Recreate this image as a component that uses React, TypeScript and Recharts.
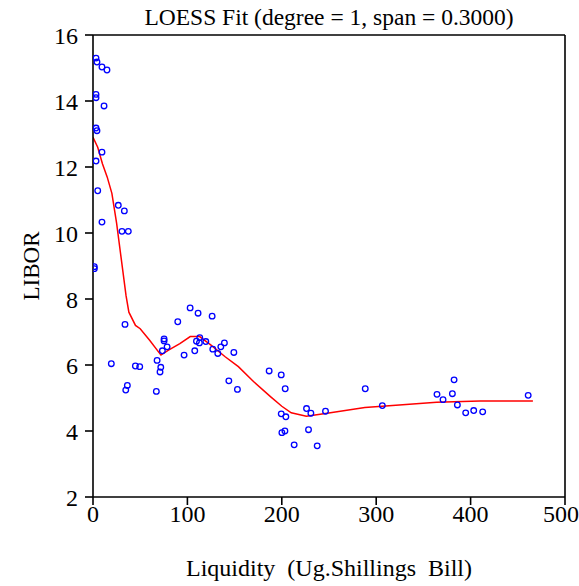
import {
  ComposedChart,
  Scatter,
  Line,
  XAxis,
  YAxis,
  ReferenceLine,
} from "recharts";

const liquidity = [
  3.2, 4.2, 9.5, 14.8, 3.2, 3.2, 11.7, 3.2, 4.2, 9.5, 3.2, 5, 26.8, 33.2, 9.5,
  30.7, 37.4, 1.4, 1.4, 33.9, 89.8, 75.3, 75.3, 78.5, 73.5, 19.4, 44.9, 49.5,
  67.9, 71.8, 71, 36.4, 34.7, 67.1, 102.9, 111.3, 126.2, 113.1, 109.6, 112.7,
  119.5, 139.2, 135.4, 126.9, 132.2, 107.8, 96.5, 149.2, 143.9, 153, 186.6,
  199.4, 203.6, 199.4, 204.3, 200.1, 203.3, 226.2, 230.8, 228.3, 246.3, 213.1,
  237.5, 288.4, 306.5, 364.4, 370.8, 382.5, 380.7, 386, 394.8, 403.3, 412.8,
  461,
];
const libor = [
  15.3, 15.18, 15.03, 14.94, 14.2, 14.1, 13.85, 13.18, 13.1, 12.45, 12.18,
  11.28, 10.84, 10.67, 10.33, 10.05, 10.05, 8.98, 8.92, 7.23, 7.31, 6.79, 6.73,
  6.55, 6.43, 6.04, 5.97, 5.95, 6.14, 5.93, 5.79, 5.38, 5.24, 5.2, 7.73, 7.57,
  7.48, 6.83, 6.72, 6.67, 6.71, 6.67, 6.55, 6.48, 6.35, 6.43, 6.3, 6.38, 5.52,
  5.26, 5.82, 5.7, 5.28, 4.52, 4.43, 3.95, 4.0, 4.68, 4.54, 4.04, 4.6, 3.58,
  3.55, 5.28, 4.77, 5.11, 4.95, 5.55, 5.13, 4.79, 4.55, 4.62, 4.58, 5.08,
];

// LOESS curve as drawn
const fitX = [
  0, 5, 10, 15, 20, 25, 30, 35, 38, 45, 50, 60, 72, 80, 92, 103, 113, 125, 140,
  154, 170, 188, 200, 210, 226, 248, 288, 310, 364, 410, 466,
];
const fitY = [
  12.9, 12.6, 12.1, 11.7, 11.2, 10.3, 9.2, 8.1, 7.6, 7.2, 7.1, 6.75, 6.3, 6.45,
  6.65, 6.86, 6.86, 6.6, 6.25, 5.95, 5.5, 5.04, 4.75, 4.55, 4.45, 4.54, 4.71,
  4.76, 4.87, 4.91, 4.91,
];

const xTicks = [0, 100, 200, 300, 400, 500];
const yTicks = [2, 4, 6, 8, 10, 12, 14, 16];

const points = liquidity.map((x, i) => ({ x, y: libor[i] }));
const fit = fitX.map((x, i) => ({ x, y: fitY[i] }));

const font = "'Liberation Serif', 'Times New Roman', serif";

const OpenCircle = (props: any) => (
  <circle
    cx={props.cx}
    cy={props.cy}
    r={2.8}
    fill="none"
    stroke="#0000ff"
    strokeWidth={1.3}
  />
);

export default function App() {
  return (
    <div
      style={{
        position: "absolute",
        left: 0,
        top: 0,
        width: 579,
        height: 586,
        overflow: "hidden",
        background: "#fff",
        fontFamily: font,
      }}
    >
      <div
        style={{
          position: "absolute",
          left: 93,
          width: 472,
          top: 4,
          textAlign: "center",
          fontSize: 23.5,
          color: "#000",
        }}
      >
        LOESS Fit (degree = 1, span = 0.3000)
      </div>
      <ComposedChart
        width={579}
        height={586}
        margin={{ top: 35, right: 14, bottom: 0, left: 0 }}
      >
        <XAxis
          dataKey="x"
          type="number"
          domain={[0, 500]}
          ticks={xTicks}
          allowDataOverflow
          height={89}
          tickSize={8}
          tickMargin={0}
          stroke="#000"
          strokeWidth={1.6}
          tick={{ fill: "#000", fontSize: 24, fontFamily: font }}
          label={{
            content: () => (
              <text
                x={329}
                y={576}
                textAnchor="middle"
                fontSize={24}
                fontFamily={font}
                fill="#000"
                style={{ whiteSpace: "pre" }}
              >
                {"Liquidity  (Ug.Shillings  Bill)"}
              </text>
            ),
          }}
        />
        <YAxis
          dataKey="y"
          type="number"
          domain={[2, 16]}
          ticks={yTicks}
          allowDataOverflow
          width={93}
          tickSize={8}
          tickMargin={7}
          stroke="#000"
          strokeWidth={1.6}
          tick={{ fill: "#000", fontSize: 24, fontFamily: font }}
          label={{
            content: () => (
              <text
                x={39}
                y={266}
                transform="rotate(-90 39 266)"
                textAnchor="middle"
                fontSize={23}
                fontFamily={font}
                fill="#000"
              >
                LIBOR
              </text>
            ),
          }}
        />
        <ReferenceLine y={16} stroke="#000" strokeWidth={1.6} />
        <ReferenceLine x={500} stroke="#000" strokeWidth={1.6} />
        <Line
          data={fit}
          dataKey="y"
          type="linear"
          stroke="#ff0000"
          strokeWidth={1.5}
          dot={false}
          activeDot={false}
          isAnimationActive={false}
        />
        <Scatter
          data={points}
          dataKey="y"
          shape={OpenCircle}
          isAnimationActive={false}
        />
      </ComposedChart>
    </div>
  );
}
